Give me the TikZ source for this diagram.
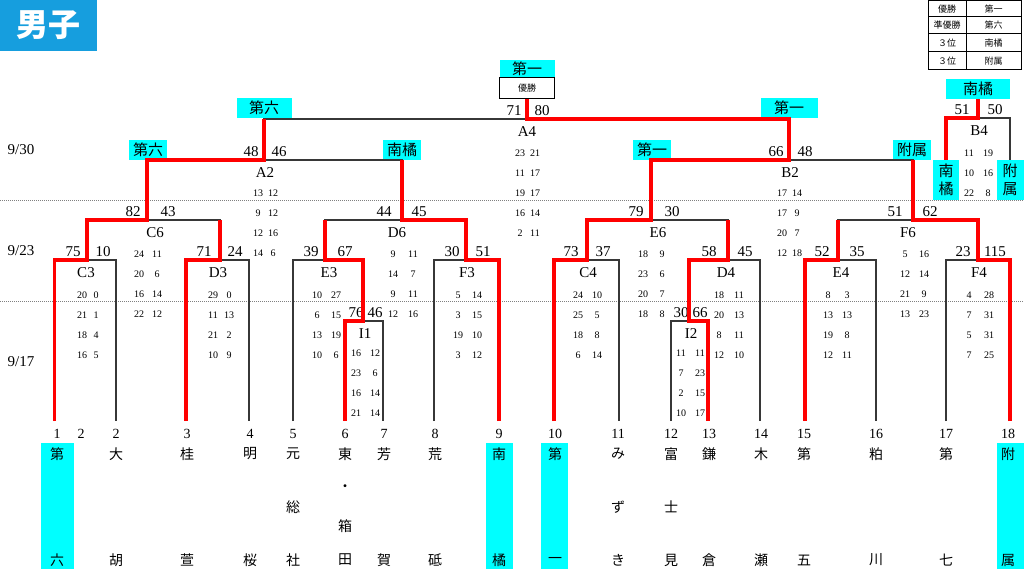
\documentclass[tikz,border=0pt]{standalone}
\usepackage{fontspec}
\setmainfont{Liberation Serif}
\newfontfamily\jp{Noto Sans CJK JP}
\usetikzlibrary{positioning}
\definecolor{winred}{RGB}{255,0,0}
\definecolor{labcyan}{RGB}{0,255,255}
\definecolor{headblue}{RGB}{22,158,222}
\definecolor{linegray}{RGB}{55,55,55}
\tikzset{
  % thin bracket lines
  bracket/.style={draw=linegray, line width=1.3pt},
  % path of a winning team
  winner/.style={draw=winred, line width=3.4pt},
  % cyan school labels
  lab/.style={fill=labcyan, inner sep=0pt, minimum height=20pt, align=center,
    font=\jp\fontsize{15}{18}\selectfont},
  % match scores and match names
  big/.style={inner sep=0pt, font=\fontsize{15}{15}\selectfont},
  % quarter scores
  small/.style={inner sep=0pt, font=\fontsize{10}{10}\selectfont},
  % school names and draw numbers
  team/.style={inner sep=0pt, font=\jp\fontsize{14}{14}\selectfont},
  num/.style={inner sep=0pt, font=\fontsize{14}{14}\selectfont},
  cell/.style={inner sep=0pt, font=\jp\fontsize{9}{9}\selectfont},
}
\newcommand{\setscores}[5]{%
  \foreach \a/\b [count=\i] in {#5} {
    \node[small] (#1-s\i-a) at (#2,#4+20*\i-20) {\a};
    \node[small] (#1-s\i-b) at (#3,#4+20*\i-20) {\b};
  }}

\begin{document}
\begin{tikzpicture}[x=1pt, y=-1pt]
  \useasboundingbox (0,0) rectangle (1024,569);

  \node[fill=headblue, text=white, minimum width=97pt, minimum height=51pt, inner sep=0pt,
    font=\jp\bfseries\fontsize{32}{32}\selectfont] (title) at (48.5,25.5) {男子};

  % results table
  \draw[line width=1pt] (928,1) rectangle (1021,70);
  \draw[line width=1pt] (966,1) -- (966,70);
  \foreach \y in {17,34,52} \draw[line width=1pt] (928,\y) -- (1021,\y);
  \foreach \y/\p/\s [count=\i] in {9/優勝/第一, 25.5/準優勝/第六, 43/３位/南橘, 61/３位/附属} {
    \node[cell] (rk\i) at (947,\y) {\p};
    \node[cell] (sc\i) at (993.5,\y) {\s};
  }

  % dates
  \node[big] (d930) at (21,150) {9/30};
  \node[big] (d923) at (21,251) {9/23};
  \node[big] (d917) at (21,362) {9/17};
  \draw[gray, line width=0.8pt, dash pattern=on 1pt off 1pt] (0,200) -- (1024,200);
  \draw[gray, line width=0.8pt, dash pattern=on 1pt off 1pt] (0,301) -- (1024,301);

  % winners on top
  \node[lab, minimum width=55pt, minimum height=18pt] (champ) at (527,69) {第一};
  \node[draw, line width=1pt, minimum width=55pt, minimum height=21pt, inner sep=0pt,
    font=\jp\fontsize{9}{9}\selectfont] (yusho) at (527,88.5) {優勝};
  \node[lab, minimum width=55pt] (wA2) at (264,108) {第六};
  \node[lab, minimum width=57pt] (wB2) at (789,108) {第一};
  \node[lab, minimum width=38pt] (wC6) at (148,150) {第六};
  \node[lab, minimum width=38pt] (wD6) at (402,150) {南橘};
  \node[lab, minimum width=38pt] (wE6) at (652,150) {第一};
  \node[lab, minimum width=38pt] (wF6) at (912,150) {附属};
  \node[lab, minimum width=64pt] (b4w) at (978,89) {南橘};
  \node[lab, minimum width=26pt, minimum height=40pt] (b4n) at (946,180) {南\\橘};
  \node[lab, minimum width=27pt, minimum height=40pt] (b4f) at (1010,180) {附\\属};

  % matches
  \foreach \nm/\mx/\ly/\lx/\ax/\bx/\a/\b in {
    A4/527/119/527/514/542/71/80, A2/264/160/265/251/279/48/46,
    B2/789/160/790/776/805/66/48, B4/978/118/979/962/995/51/50,
    C6/147/220/155/133/168/82/43, D6/402/220/397/384/419/44/45,
    E6/651/220/658/636/672/79/30, F6/913/220/908/895/930/51/62,
    C3/87/260/86/73/103/75/10, D3/220/260/218/204/235/71/24,
    E3/325/260/329/311/345/39/67, F3/466/260/467/452/483/30/51,
    C4/587/260/588/571/603/73/37, D4/728/260/726/709/745/58/45,
    E4/838/260/841/822/857/52/35, F4/978/260/979/963/995/23/115,
    I1/363/321/365/356/375/76/46, I2/689/321/691/681/700/30/66} {
    \coordinate (m\nm) at (\mx,\ly);
    \node[big] (\nm) at (\lx,\ly+13) {\nm};
    \node[big] (\nm-a) at (\ax,\ly-8) {\a};
    \node[big] (\nm-b) at (\bx,\ly-8) {\b};
  }

  \setscores{A4}{520}{535}{153}{23/21,11/17,19/17,16/14,2/11}
  \setscores{A2}{258}{273}{193}{13/12,9/12,12/16,14/6}
  \setscores{B2}{782}{797}{193}{17/14,17/9,20/7,12/18}
  \setscores{B4}{969}{988}{153}{11/19,10/16,22/8}
  \setscores{C6}{139}{157}{254}{24/11,20/6,16/14,22/12}
  \setscores{D6}{393}{413}{254}{9/11,14/7,9/11,12/16}
  \setscores{E6}{643}{662}{254}{18/9,23/6,20/7,18/8}
  \setscores{F6}{905}{924}{254}{5/16,12/14,21/9,13/23}
  \setscores{C3}{82}{96}{295}{20/0,21/1,18/4,16/5}
  \setscores{D3}{213}{229}{295}{29/0,11/13,21/2,10/9}
  \setscores{E3}{317}{336}{295}{10/27,6/15,13/19,10/6}
  \setscores{F3}{458}{477}{295}{5/14,3/15,19/10,3/12}
  \setscores{C4}{578}{597}{295}{24/10,25/5,18/8,6/14}
  \setscores{D4}{719}{739}{295}{18/11,20/13,8/11,12/10}
  \setscores{E4}{828}{847}{295}{8/3,13/13,19/8,12/11}
  \setscores{F4}{969}{989}{295}{4/28,7/31,5/31,7/25}
  \setscores{I1}{356}{375}{353}{16/12,23/6,16/14,21/14}
  \setscores{I2}{681}{700}{353}{11/11,7/23,2/15,10/17}

  % teams
  \foreach \i/\x in {1/54.5, 2/116, 3/186, 4/249, 5/293, 6/345, 7/383, 8/434, 9/499,
    10/554, 11/619, 12/671, 13/708, 14/760, 15/805, 16/876, 17/946, 18/1010}
    \coordinate (l\i) at (\x,421);
  \foreach \i/\x/\w in {1/57.5/33, 9/499.5/27, 10/554.5/27, 18/1010.5/27}
    \node[fill=labcyan, minimum width=\w pt, minimum height=126pt, inner sep=0pt] (col\i) at (\x,506) {};
  \foreach \i/\x/\t/\u in {1/57/第/六, 2/116/大/胡, 3/187/桂/萱, 4/250/明/桜, 5/293/元/社,
    6/345/東/田, 7/384/芳/賀, 8/435/荒/砥, 9/499/南/橘, 10/555/第/一, 11/618/み/き,
    12/671/富/見, 13/709/鎌/倉, 14/761/木/瀬, 15/804/第/五, 16/876/粕/川, 17/946/第/七,
    18/1008/附/属} {
    \node[num] (n\i) at (\x,434) {\i};
    \node[team] (top\i) at (\x,454) {\t};
    \node[team] (bot\i) at (\x,560) {\u};
  }
  \node[num] (nx) at (81,434) {2};
  \node[team] (mid5) at (293,507) {総};
  \node[team] (dot6) at (345,488) {・};
  \node[team] (mid6) at (345,526) {箱};
  \node[team] (mid11) at (618,507) {ず};
  \node[team] (mid12) at (671,507) {士};

  % bracket
  \draw[bracket] (l1) |- (mC3) -| (l2);
  \draw[bracket] (l3) |- (mD3) -| (l4);
  \draw[bracket] (l6) |- (mI1) -| (l7);
  \draw[bracket] (l5) |- (mE3) -| (mI1);
  \draw[bracket] (l8) |- (mF3) -| (l9);
  \draw[bracket] (mC3) |- (mC6) -| (mD3);
  \draw[bracket] (mE3) |- (mD6) -| (mF3);
  \draw[bracket] (mC6) |- (mA2) -| (mD6);
  \draw[bracket] (l10) |- (mC4) -| (l11);
  \draw[bracket] (l12) |- (mI2) -| (l13);
  \draw[bracket] (mI2) |- (mD4) -| (l14);
  \draw[bracket] (l15) |- (mE4) -| (l16);
  \draw[bracket] (l17) |- (mF4) -| (l18);
  \draw[bracket] (mC4) |- (mE6) -| (mD4);
  \draw[bracket] (mE4) |- (mF6) -| (mF4);
  \draw[bracket] (mE6) |- (mB2) -| (mF6);
  \draw[bracket] (mA2) |- (mA4) -| (mB2);
  \draw[bracket] (b4n.north) |- (mB4) -| (b4f.north);

  % winners
  \draw[winner] (l1) |- (mC3) |- (mC6) |- (mA2) -- (mA2 |- mA4);
  \draw[winner] (l3) |- (mD3) -- (mD3 |- mC6);
  \draw[winner] (l6) |- (mI1) |- (mE3) -- (mE3 |- mD6);
  \draw[winner] (l9) |- (mF3) |- (mD6) -- (mD6 |- mA2);
  \draw[winner] (l10) |- (mC4) |- (mE6) |- (mB2) |- (mA4) -- (yusho.south);
  \draw[winner] (l13) |- (mI2) |- (mD4) -- (mD4 |- mE6);
  \draw[winner] (l15) |- (mE4) -- (mE4 |- mF6);
  \draw[winner] (l18) |- (mF4) |- (mF6) -- (mF6 |- mB2);
  \draw[winner] (b4n.north) |- (mB4) -- (b4w.south);
\end{tikzpicture}
\end{document}
